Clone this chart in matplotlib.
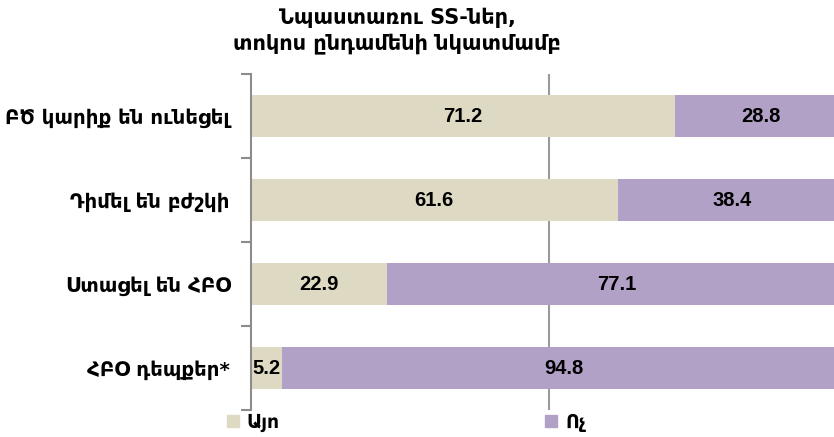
import os
import matplotlib as mpl
import matplotlib.pyplot as plt
from matplotlib.font_manager import FontProperties
from matplotlib.lines import Line2D

categories = ['ԲԾ կարիք են ունեցել', 'Դիմել են բժշկի', 'Ստացել են ՀԲՕ', 'ՀԲՕ դեպքեր*']
yes_values = [71.2, 61.6, 22.9, 5.2]
no_values = [28.8, 38.4, 77.1, 94.8]
series_names = ['Այո', 'Ոչ']
title_text = 'Նպաստառու SS-ներ,\nտոկոս ընդամենի նկատմամբ'

yes_color = '#DDD9C3'
no_color = '#B2A1C7'
line_color = '#8c8c8c'

# bundled DejaVu Sans Bold for the Armenian text, so the regular-width face is used
bold_path = os.path.join(mpl.get_data_path(), 'fonts', 'ttf', 'DejaVuSans-Bold.ttf')

def arm_font(size):
    return FontProperties(fname=bold_path, size=size)

W, H = 834, 437
fig = plt.figure(figsize=(W / 100, H / 100), dpi=100)
# the 0..100 scale runs a little past the right edge of the figure
ax = fig.add_axes([250.5 / W, (H - 410) / H, 596.5 / W, 336 / H])

ypos = list(range(len(categories)))
ax.barh(ypos, yes_values, height=0.5, color=yes_color, zorder=2)
ax.barh(ypos, no_values, left=yes_values, height=0.5, color=no_color, zorder=2)

for i in ypos:
    ax.text(yes_values[i] / 2, i, f'{yes_values[i]:.1f}', ha='center', va='center',
            family='Liberation Sans', fontsize=14.5, fontweight='bold', color='black', zorder=3)
    ax.text(yes_values[i] + no_values[i] / 2, i, f'{no_values[i]:.1f}', ha='center',
            va='center', family='Liberation Sans', fontsize=14.5, fontweight='bold',
            color='black', zorder=3)

ax.axvline(50, color='#9a9a9a', lw=1.5, zorder=1)

ax.set_xlim(0, 100)
ax.set_ylim(len(categories) - 0.5, -0.5)
ax.set_xticks([])
ax.set_yticks(ypos)
ax.set_yticklabels(categories, fontproperties=arm_font(14.2))
ax.set_yticks([i - 0.5 for i in range(len(categories) + 1)], minor=True)
ax.tick_params(axis='y', which='major', length=0, pad=14.8)
ax.tick_params(axis='y', which='minor', length=7, width=1.5, color=line_color,
               direction='out')

for side in ['top', 'right', 'bottom']:
    ax.spines[side].set_visible(False)
ax.spines['left'].set_color(line_color)
ax.spines['left'].set_linewidth(1.5)

fig.text(397 / W, 1 - 31 / H, title_text, ha='center', va='center',
         fontproperties=arm_font(15), linespacing=1.35)

# legend entries sit far apart under the plot
for name, color, x0 in [(series_names[0], yes_color, 226.2), (series_names[1], no_color, 544.7)]:
    handle = Line2D([], [], ls='', marker='s', markersize=8, color=color)
    fig.legend([handle], [name], loc='center left', bbox_to_anchor=(x0 / W, 14.5 / H),
               frameon=False, borderpad=0, borderaxespad=0, handlelength=0.7,
               handletextpad=0.4, prop=arm_font(13.5))

fig.savefig('out.png', dpi=100)
